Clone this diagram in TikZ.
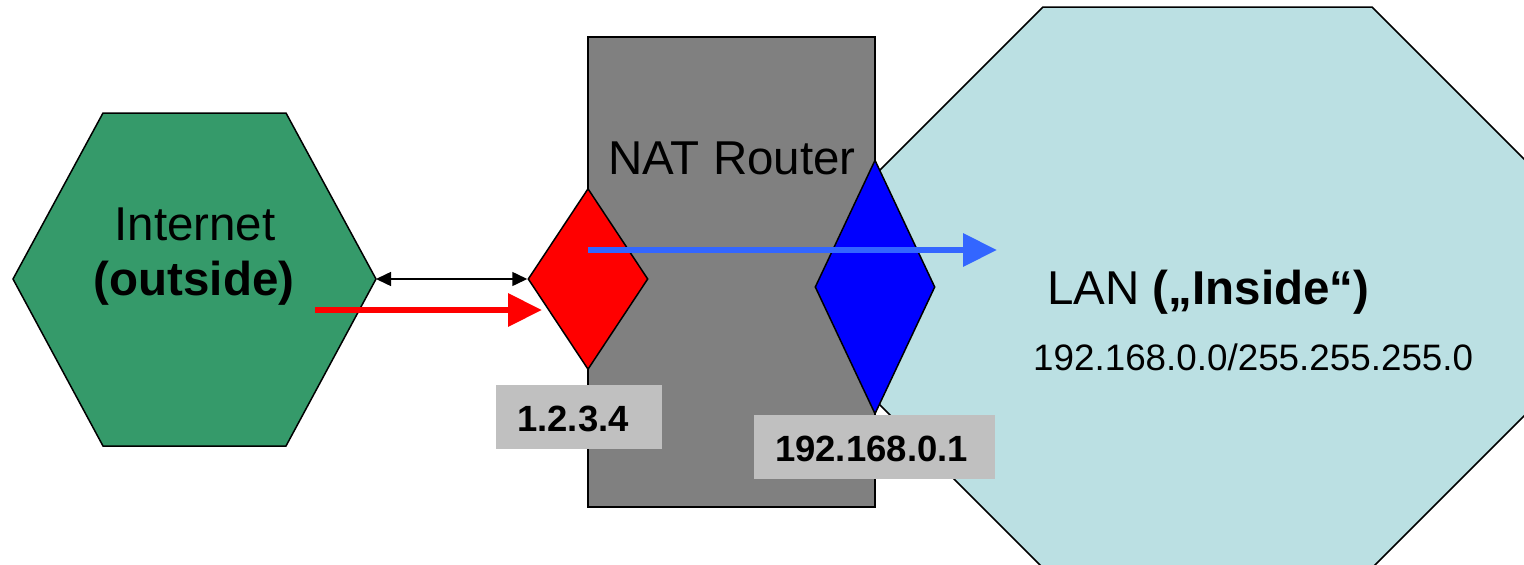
\documentclass[tikz,border=0pt]{standalone}
\usepackage{fontspec}
\setmainfont{Liberation Sans}
\usetikzlibrary{arrows.meta,shapes.geometric}
\definecolor{netgreen}{HTML}{359A6A}
\definecolor{lanblue}{HTML}{BBE0E3}
\definecolor{routergray}{HTML}{808080}
\definecolor{lblgray}{HTML}{C0C0C0}
\definecolor{flowblue}{HTML}{3366FF}
\tikzset{
  outline/.style={draw=black, line width=1.5pt},
  bigtext/.style={font=\fontsize{47.5pt}{56pt}\selectfont, inner sep=0pt},
  smalltext/.style={font=\fontsize{36.8pt}{44pt}\selectfont, inner sep=0pt},
  iplabel/.style={fill=lblgray, inner sep=0pt, minimum height=64pt},
  iptext/.style={inner sep=0pt, anchor=base, font=\bfseries\fontsize{36.5pt}{44pt}\selectfont},
  portshape/.style={diamond, outline, inner sep=0pt},
  flow/.style={line width=6.5pt, -{Triangle[length=34pt,width=32pt]}}
}
\begin{document}
\begin{tikzpicture}[x=1pt,y=-1pt]
\useasboundingbox (0,0) rectangle (1524,565);
\clip (0,0) rectangle (1524,565);
% LAN octagon
\draw[outline, fill=lanblue] (876,174) -- (1043,7) -- (1372,7) -- (1539,174) -- (1539,401) -- (1372,568) -- (1043,568) -- (876,401) -- cycle;
% Internet hexagon
\draw[outline, fill=netgreen] (13,279) -- (103,113) -- (286,113) -- (376,279) -- (286,446) -- (103,446) -- cycle;
\coordinate (inetE) at (376,279);
\node[bigtext, anchor=base] (inet1) at (195,240) {Internet};
\node[bigtext, anchor=base] (inet2) at (194,295) {\bfseries (outside)};
% Router
\node[outline, fill=routergray, minimum width=287pt, minimum height=470pt, inner sep=0pt] (router) at (731.5,272) {};
\node[bigtext, anchor=base] (rtext) at (732,174) {NAT Router};
% ports
\node[portshape, fill=red, minimum width=120pt, minimum height=181pt] (wan) at (588,279) {};
\node[portshape, fill=blue, minimum width=120pt, minimum height=254pt] (lan) at (875,287) {};
% LAN texts
\node[bigtext, anchor=base west] (lantext) at (1047,304) {LAN \textbf{(„Inside“)}};
\node[smalltext, anchor=base west] (subnet) at (1033,370) {192.168.0.0/255.255.255.0};
% IP labels
\node[iplabel, minimum width=166pt] (ip1) at (579,417) {};
\node[iptext] (ip1t) at (573,431) {1.2.3.4};
\node[iplabel, minimum width=241pt] (ip2) at (874.5,447) {};
\node[iptext] (ip2t) at (871.5,461) {192.168.0.1};
% connectors
\draw[line width=1.5pt, {Triangle[length=15pt,width=14pt]}-{Triangle[length=15pt,width=14pt]}] (inetE) -- (wan.west);
\coordinate (redS) at (315,310);
\coordinate (redE) at (542,310);
\draw[flow, red] (redS) -- (redE);
\coordinate (blueS) at (588,250);
\coordinate (blueE) at (997,250);
\draw[flow, flowblue] (blueS) -- (blueE);
\end{tikzpicture}
\end{document}
